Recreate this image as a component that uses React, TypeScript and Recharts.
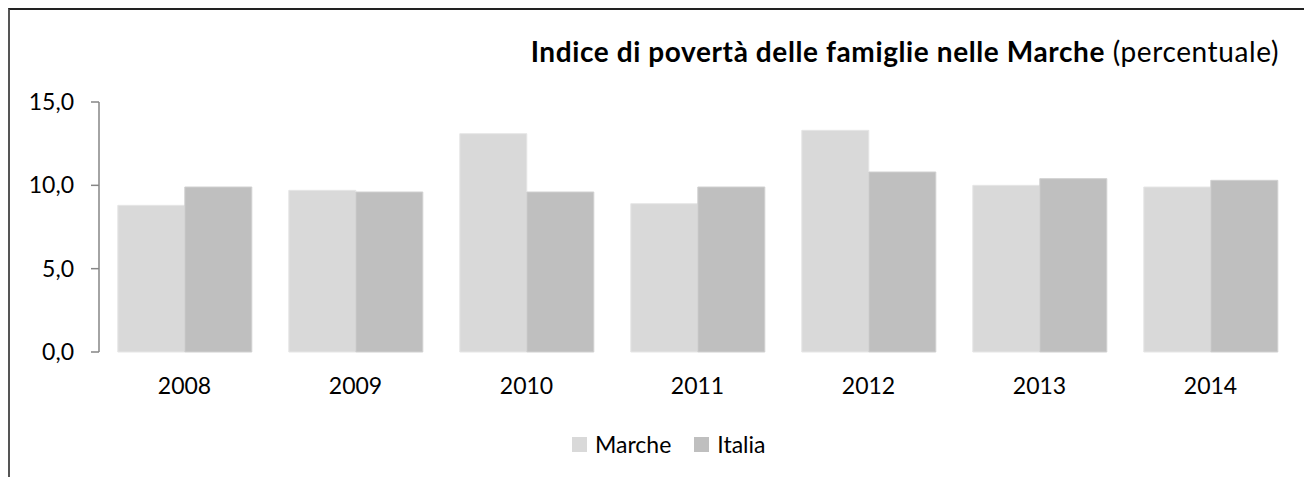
import { BarChart, Bar, XAxis, YAxis, Legend } from 'recharts';

const years = ['2008', '2009', '2010', '2011', '2012', '2013', '2014'];
const marche = [8.8, 9.7, 13.1, 8.9, 13.3, 10.0, 9.9];
const italia = [9.9, 9.6, 9.6, 9.9, 10.8, 10.4, 10.3];
const seriesNames = ['Marche', 'Italia'];
const yTicks = [0, 5, 10, 15];
const bandTicks = [0, 1, 2, 3, 4, 5, 6, 7];

const data = years.map((year, i) => ({ year, Marche: marche[i], Italia: italia[i] }));

const FONT = 'Lato, "Open Sans", sans-serif';
const AXIS = '#868686';

const fmt = (v: number) => v.toFixed(1).replace('.', ',');

function LegendContent(props: any) {
  const items = [...(props.payload || [])].sort(
    (a: any, b: any) => seriesNames.indexOf(a.value) - seriesNames.indexOf(b.value)
  );
  return (
    <div style={{ display: 'flex', alignItems: 'center', height: 30, fontFamily: FONT, fontSize: 23, color: '#000' }}>
      {items.map((it: any, i: number) => (
        <div key={it.value} style={{ display: 'flex', alignItems: 'center', marginRight: i === 0 ? 23 : 0 }}>
          <span style={{ width: 15, height: 15, background: it.color, marginRight: 8, display: 'inline-block' }} />
          <span>{it.value}</span>
        </div>
      ))}
    </div>
  );
}

export default function App() {
  return (
    <div style={{ position: 'relative', width: 1304, height: 469, background: '#fff' }}>
      <div
        style={{
          position: 'absolute',
          left: 0,
          top: 0,
          right: 0,
          bottom: 0,
          borderTop: '2px solid #222',
          borderLeft: '2px solid #555',
          pointerEvents: 'none',
        }}
      />
      <div
        style={{
          position: 'absolute',
          right: 33,
          top: 29,
          fontFamily: FONT,
          fontSize: 28,
          lineHeight: '28px',
          letterSpacing: 0.6,
          color: '#000',
          whiteSpace: 'nowrap',
        }}
      >
        <b>Indice di povertà delle famiglie nelle Marche</b> (percentuale)
      </div>
      <BarChart
        width={1304}
        height={469}
        data={data}
        margin={{ top: 94, right: 16, left: 0, bottom: 50 }}
        barGap={0}
        barCategoryGap="11%"
      >
        <XAxis
          xAxisId="band"
          type="number"
          domain={[0, 7]}
          ticks={bandTicks}
          allowDataOverflow
          tick={false}
          tickSize={8}
          height={0}
          stroke={AXIS}
          axisLine={{ stroke: AXIS, strokeWidth: 1.5 }}
          tickLine={{ stroke: AXIS, strokeWidth: 1.5 }}
        />
        <XAxis
          dataKey="year"
          axisLine={false}
          tickLine={false}
          tickSize={0}
          tickMargin={26}
          height={45}
          tick={{ fill: '#000', fontSize: 23, fontFamily: FONT }}
        />
        <YAxis
          domain={[0, 15]}
          ticks={yTicks}
          width={91}
          tickSize={8}
          tickMargin={17}
          tickFormatter={fmt}
          axisLine={{ stroke: AXIS, strokeWidth: 1.5 }}
          tickLine={{ stroke: AXIS, strokeWidth: 1.5 }}
          tick={{ fill: '#000', fontSize: 23, fontFamily: FONT }}
        />
        <Legend
          verticalAlign="bottom"
          content={<LegendContent />}
          wrapperStyle={{ left: 564, top: 421, bottom: 'auto', width: 'auto' }}
        />
        <Bar dataKey="Marche" fill="#D9D9D9" stroke="#E6E6E6" strokeWidth={1} isAnimationActive={false} />
        <Bar dataKey="Italia" fill="#BFBFBF" stroke="#D0D0D0" strokeWidth={1} isAnimationActive={false} />
      </BarChart>
    </div>
  );
}
